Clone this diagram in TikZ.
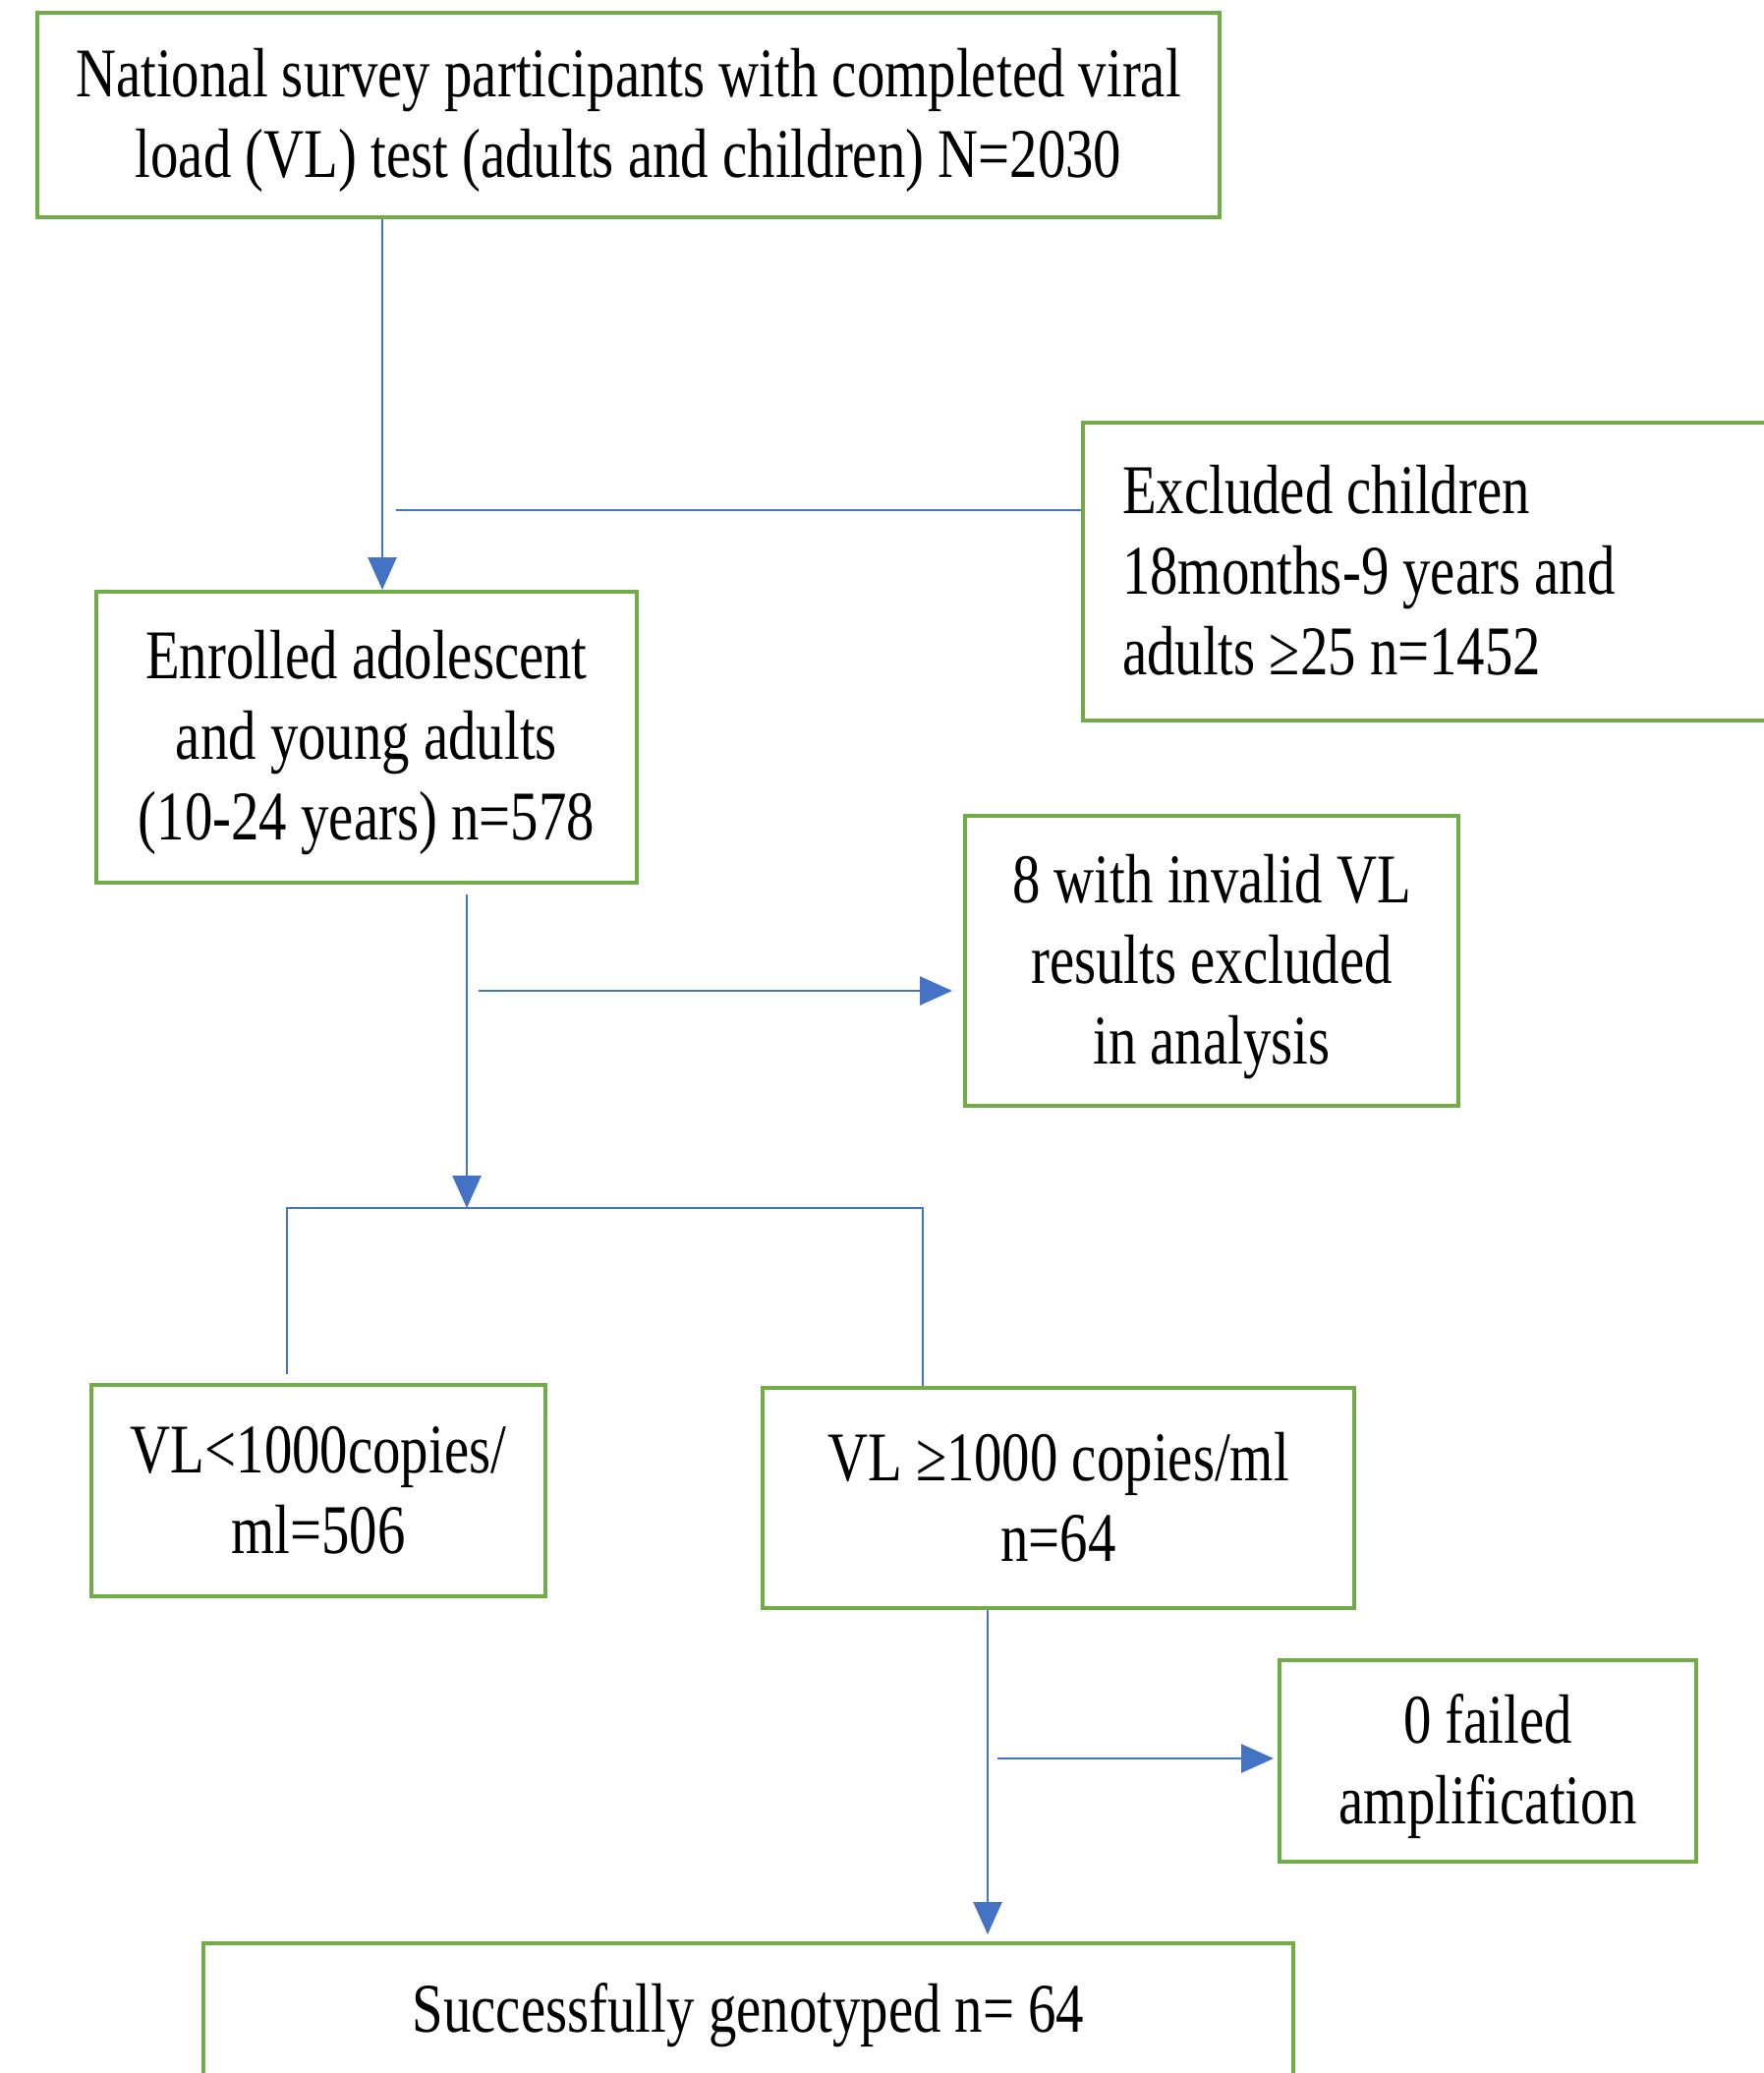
\documentclass[tikz,border=0pt]{standalone}
\usepackage{fontspec}
\setmainfont{Liberation Serif}[FakeStretch=0.80]
\usetikzlibrary{arrows.meta,positioning,calc}
\definecolor{boxgreen}{HTML}{70AD47}
\definecolor{linkblue}{HTML}{4472C4}
\tikzset{
    stage/.style={
        rectangle,
        draw=boxgreen,
        line width=4pt,
        fill=white,
        align=center,
        inner sep=0pt,
        font=\fontsize{71}{82}\selectfont,
        text height=61pt,
        execute at end node={\rule[-15pt]{0pt}{15pt}},
    },
    two rows/.style={
        text height=143pt,
    },
    three rows/.style={
        text height=225pt,
    },
    flow/.style={
        draw=linkblue,
        line width=2.7pt,
    },
    flow arrow/.style={
        flow,
        -{Triangle[length=33pt,width=29pt]},
    },
}
\begin{document}
\begin{tikzpicture}[x=1pt,y=-1pt]
    \useasboundingbox (0,0) rectangle (1795,2109);
    \clip (0,0) rectangle (1795,2109);

    \node [stage, two rows, minimum width=1203pt, minimum height=208pt] (survey) at (639.5,117) {National survey participants with completed viral\\load (VL) test (adults and children) N=2030};
    \node [stage, anchor=west, text width=640pt, align=flush left, inner xsep=40pt, minimum height=303pt] (excluded) at (1100,581) {Excluded children\\18months-9 years and\\adults ≥25 n=1452};
    \node [stage, three rows, minimum width=550pt, minimum height=296pt] (enrolled) at (373,750) {Enrolled adolescent\\and young adults\\(10-24 years) n=578};
    \node [stage, three rows, minimum width=502pt, minimum height=295pt] (invalid) at (1233,977.5) {8 with invalid VL\\results excluded\\in analysis};
    \node [stage, two rows, minimum width=462pt, minimum height=215pt] (low) at (324,1516.5) {VL<1000copies/\\ml=506};
    \node [stage, two rows, minimum width=602pt, minimum height=224pt] (high) at (1077,1524) {VL ≥1000 copies/ml\\n=64};
    \node [stage, two rows, minimum width=424pt, minimum height=205pt] (failed) at (1514,1791.5) {0 failed\\amplification};
    \node [stage, minimum width=1109pt, minimum height=136pt] (typed) at (761.5,2045) {Successfully genotyped n= 64};

    \coordinate (a0) at (389,0);
    \coordinate (xl) at (403,519);
    \coordinate (e0) at (475,910);
    \coordinate (split) at (475,1229);
    \coordinate (v0) at (487,1008);
    \coordinate (bl) at (292,1398);
    \coordinate (br) at (939,1229);
    \coordinate (h0) at (1005,0);
    \coordinate (f0) at (1015,1789);

    \draw [flow arrow] (a0 |- survey.south) -- (a0 |- enrolled.north);
    \draw [flow] (excluded.west |- xl) -- (xl);
    \draw [flow arrow] (e0) -- (split);
    \draw [flow arrow] (v0) -- ([xshift=-11pt]invalid.west |- v0);
    \draw [flow] (bl) |- (br) -- (br |- high.north);
    \draw [flow arrow] (h0 |- high.south) -- ([yshift=7pt]h0 |- typed.north);
    \draw [flow arrow] (f0) -- ([xshift=-4pt]failed.west |- f0);
\end{tikzpicture}
\end{document}
